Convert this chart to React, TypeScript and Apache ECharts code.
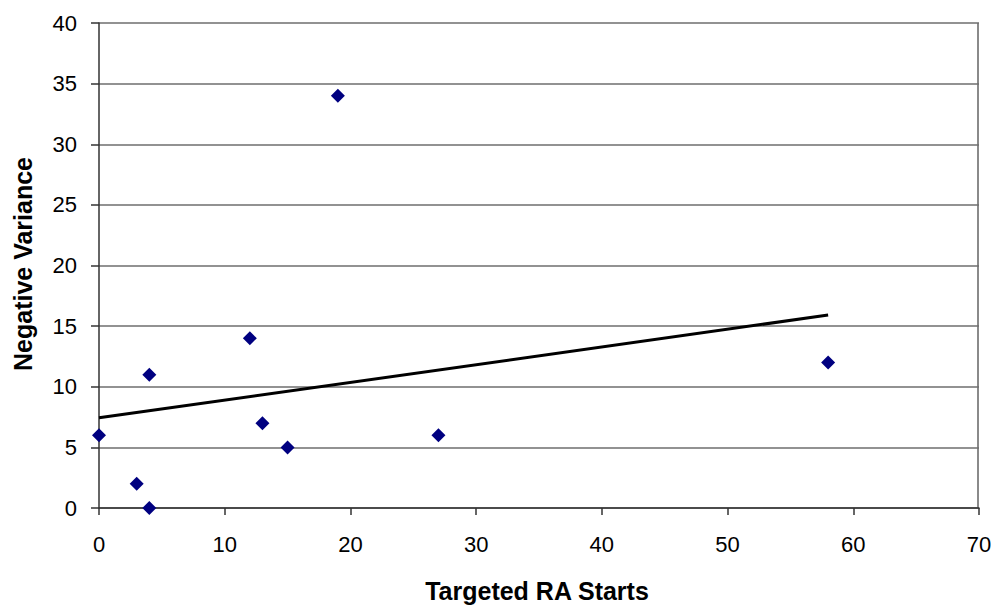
import React, { useEffect, useRef } from "react";
import * as echarts from "echarts";

const starts = [0, 3, 4, 4, 12, 13, 15, 19, 27, 58];
const variance = [6, 2, 0, 11, 14, 7, 5, 34, 6, 12];

const xTitle = "Targeted RA Starts";
const yTitle = "Negative Variance";

// Least-squares line through the points, drawn from min to max x.
function trend(xs: number[], ys: number[]) {
  const n = xs.length;
  const mx = xs.reduce((a, b) => a + b, 0) / n;
  const my = ys.reduce((a, b) => a + b, 0) / n;
  let sxy = 0;
  let sxx = 0;
  for (let i = 0; i < n; i++) {
    sxy += (xs[i] - mx) * (ys[i] - my);
    sxx += (xs[i] - mx) ** 2;
  }
  const slope = sxy / sxx;
  const icpt = my - slope * mx;
  const x0 = Math.min(...xs);
  const x1 = Math.max(...xs);
  return [
    [x0, icpt + slope * x0],
    [x1, icpt + slope * x1],
  ];
}

export default function App() {
  const ref = useRef<HTMLDivElement>(null);

  useEffect(() => {
    if (!ref.current) return;
    const chart = echarts.init(ref.current, null, { renderer: "svg" });
    const font = "'Liberation Sans', Arial, sans-serif";
    chart.setOption({
      animation: false,
      backgroundColor: "#ffffff",
      grid: { left: 99, right: 26, top: 23, bottom: 100, containLabel: false },
      xAxis: {
        type: "value",
        min: 0,
        max: 70,
        interval: 10,
        axisLine: { show: true, onZero: false, lineStyle: { color: "#333333", width: 1.5 } },
        axisTick: { show: true, length: 7, inside: false, lineStyle: { color: "#333333", width: 1.5 } },
        axisLabel: { color: "#000", fontSize: 22, fontFamily: font, margin: 25 },
        splitLine: { show: false },
      },
      yAxis: {
        type: "value",
        min: 0,
        max: 40,
        interval: 5,
        axisLine: { show: true, onZero: false, lineStyle: { color: "#333333", width: 1.5 } },
        axisTick: { show: true, length: 8, inside: false, lineStyle: { color: "#333333", width: 1.5 } },
        axisLabel: { color: "#000", fontSize: 22, fontFamily: font, margin: 22 },
        splitLine: { show: true, lineStyle: { color: "#6e6e6e", width: 1.5 } },
      },
      graphic: [
        {
          type: "rect",
          shape: { x: 978, y: 23, width: 0, height: 485 },
          style: { stroke: "#8a8a8a", lineWidth: 2, fill: "none" },
          silent: true,
        },
        {
          type: "text",
          x: 537,
          y: 591,
          style: {
            text: xTitle,
            fontSize: 25,
            fontWeight: "bold",
            fontFamily: font,
            fill: "#000",
            align: "center",
            verticalAlign: "middle",
          },
        },
        {
          type: "text",
          x: 23,
          y: 264,
          rotation: Math.PI / 2,
          style: {
            text: yTitle,
            fontSize: 25,
            fontWeight: "bold",
            fontFamily: font,
            fill: "#000",
            align: "center",
            verticalAlign: "middle",
          },
        },
      ],
      series: [
        {
          type: "line",
          data: trend(starts, variance),
          showSymbol: false,
          symbol: "none",
          lineStyle: { color: "#000000", width: 3 },
          z: 2,
        },
        {
          type: "scatter",
          data: starts.map((x, i) => [x, variance[i]]),
          symbol: "diamond",
          symbolSize: 14,
          itemStyle: { color: "#000080", opacity: 1 },
          z: 3,
        },
      ],
    });
    return () => chart.dispose();
  }, []);

  return <div ref={ref} style={{ width: 1005, height: 608, position: "absolute", left: 0, top: 0 }} />;
}
